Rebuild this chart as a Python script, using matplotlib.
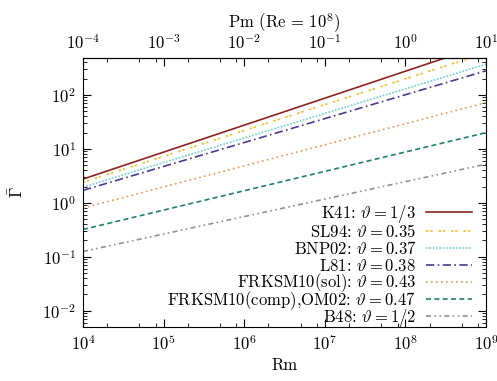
import numpy as np
import matplotlib
matplotlib.use("Agg")
import matplotlib.pyplot as plt
from matplotlib.legend import Legend
from matplotlib.ticker import LogLocator, NullFormatter

plt.rcParams['font.family'] = 'serif'
plt.rcParams['font.serif'] = ['cmr10', 'DejaVu Serif']
plt.rcParams['mathtext.fontset'] = 'cm'
plt.rcParams['axes.formatter.use_mathtext'] = True
plt.rcParams['font.size'] = 12

# Rm range and line end values
rm_ends = [1e4, 1e9]
labels = [r'K41: $\vartheta = 1/3$',
          r'SL94: $\vartheta = 0.35$',
          r'BNP02: $\vartheta = 0.37$',
          r'L81: $\vartheta = 0.38$',
          r'FRKSM10(sol): $\vartheta = 0.43$',
          r'FRKSM10(comp),OM02: $\vartheta = 0.47$',
          r'B48: $\vartheta = 1/2$']
gamma_start = [2.75, 2.4, 1.95, 1.7, 0.80, 0.32, 0.125]
gamma_end = [870, 600, 370, 280, 72, 20, 5.2]

colors = ['#8b2323', '#f0c030', '#6ccfd6', '#4a3a8c', '#f2924a', '#1f7f73', '#909090']
styles = ['-', (0, (1.5, 1, 1.5, 3.5)), (0, (1, 1)), (0, (5, 2, 1, 2)), (0, (1, 2)),
          (0, (3, 2)), (0, (3, 2, 1, 2, 1, 2))]

fig = plt.figure(figsize=(4.97, 3.81), dpi=100)
ax = fig.add_axes([0.167, 0.142, 0.811, 0.706])

lines = []
for lab, g0, g1, c, ls in zip(labels, gamma_start, gamma_end, colors, styles):
    ln, = ax.plot(rm_ends, [g0, g1], color=c, linestyle=ls, linewidth=1.2, label=lab)
    lines.append(ln)

ax.set_xscale('log')
ax.set_yscale('log')
ax.set_xlim(1e4, 1e9)
ax.set_ylim(5e-3, 4.85e2)
ax.set_xlabel('Rm', labelpad=3)
ax.set_ylabel(r'$\bar{\Gamma}$', labelpad=12)

ax.xaxis.set_minor_locator(LogLocator(base=10, subs=[2, 5, 8], numticks=100))
ax.xaxis.set_minor_formatter(NullFormatter())
ax.yaxis.set_major_locator(LogLocator(base=10, numticks=100))
ax.yaxis.set_minor_locator(LogLocator(base=10, subs=np.arange(2, 10), numticks=100))
ax.yaxis.set_minor_formatter(NullFormatter())
ax.tick_params(which='both', direction='in', top=False, right=True)
ax.tick_params(which='major', length=6, pad=5)
ax.tick_params(which='minor', length=3)

top = ax.secondary_xaxis('top', functions=(lambda x: x / 1e8, lambda x: x * 1e8))
top.set_xlabel(r'Pm (Re = $10^8$)', labelpad=4)
top.xaxis.set_minor_locator(LogLocator(base=10, subs=[2, 5, 8], numticks=100))
top.xaxis.set_minor_formatter(NullFormatter())
top.tick_params(which='both', direction='in')
top.tick_params(which='major', length=6, pad=4)
top.tick_params(which='minor', length=3)

# one key entry per row so the rows are evenly spaced (like the gnuplot key)
row_top, row_step = 0.421, 0.0645
for i, (ln, lab) in enumerate(zip(lines, labels)):
    leg = Legend(ax, [ln], [lab], loc='center right',
                 bbox_to_anchor=(0.965, row_top - i * row_step),
                 frameon=False, markerfirst=False, handlelength=2.75,
                 borderaxespad=0, borderpad=0, handletextpad=0.6)
    ax.add_artist(leg)

fig.savefig('out.png', dpi=100)
